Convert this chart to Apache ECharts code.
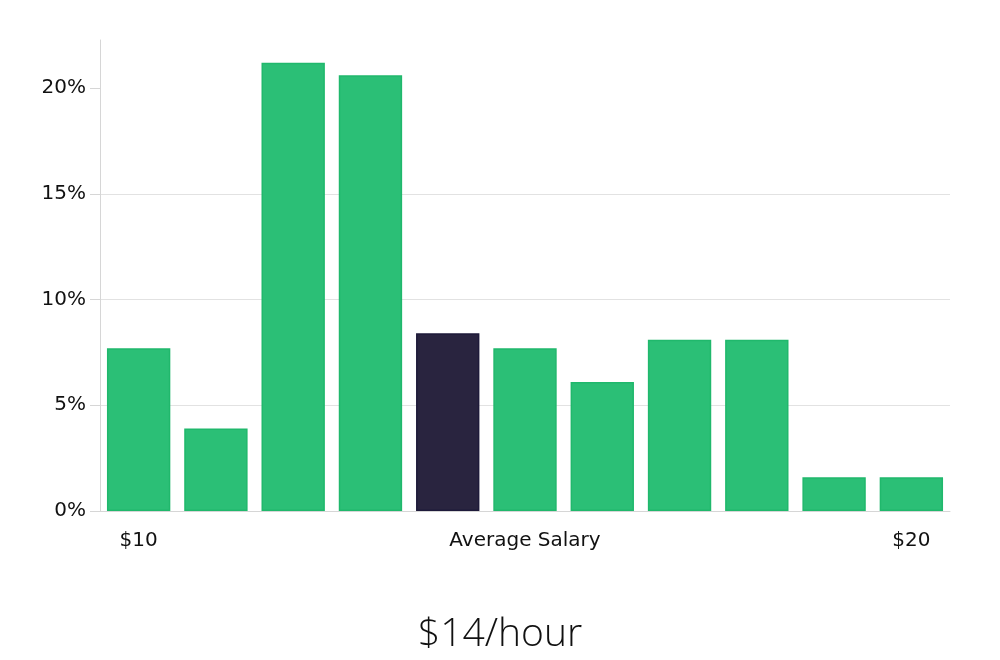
<!DOCTYPE html>
<html>
<head>
<meta charset="utf-8">
<script src="https://cdn.jsdelivr.net/npm/echarts@6/dist/echarts.min.js"></script>
<style>
  html, body { margin: 0; padding: 0; background: #fff; }
  #chart { width: 1000px; height: 660px; }
</style>
</head>
<body>
<div id="chart"></div>
<script>
// salary buckets, $10 .. $20
const buckets = ['$10', '', '', '', '', 'Average Salary', '', '', '', '', '$20']
const shares = [7.7, 3.9, 21.2, 20.6, 8.4, 7.7, 6.1, 8.1, 8.1, 1.6, 1.6]
const yTicks = [0, 5, 10, 15, 20]
const highlightIndex = 4
const headline = '$14/hour'

let myChart = echarts.init(document.getElementById('chart'))

let data = shares.map((v, i) => {
    if (i === highlightIndex) {
        return {value: v, itemStyle: {color: '#29243f', borderColor: '#1e1a3a'}}
    }
    return v
})

let option = {
    animation: false,
    title: {
        text: headline,
        left: 'center',
        top: 610,
        textStyle: {
            fontFamily: 'Open Sans',
            fontWeight: 300,
            fontSize: 39,
            color: '#111'
        }
    },
    grid: {
        left: 100,
        right: 50,
        top: 40,
        bottom: 149
    },
    xAxis: {
        type: 'category',
        data: buckets,
        axisLine: {lineStyle: {color: '#d6d6d6'}},
        axisTick: {show: false},
        axisLabel: {
            interval: 0,
            margin: 20,
            fontFamily: 'DejaVu Sans',
            fontSize: 20,
            color: '#111'
        }
    },
    yAxis: {
        type: 'value',
        min: 0,
        max: 22.27,
        interval: 5,
        axisLine: {show: true, lineStyle: {color: '#d6d6d6'}},
        axisTick: {show: true, length: 10, customValues: yTicks, lineStyle: {color: '#d6d6d6'}},
        splitLine: {showMaxLine: false, lineStyle: {color: '#e2e2e2'}},
        axisLabel: {
            margin: 14,
            fontFamily: 'DejaVu Sans',
            fontSize: 20,
            color: '#111',
            customValues: yTicks,
            formatter: v => v + '%'
        }
    },
    series: [{
        type: 'bar',
        data: data,
        barCategoryGap: '18%',
        itemStyle: {
            color: '#2bbf76',
            borderColor: '#20b86c',
            borderWidth: 1.5
        }
    }]
}
myChart.setOption(option)
</script>
</body>
</html>
